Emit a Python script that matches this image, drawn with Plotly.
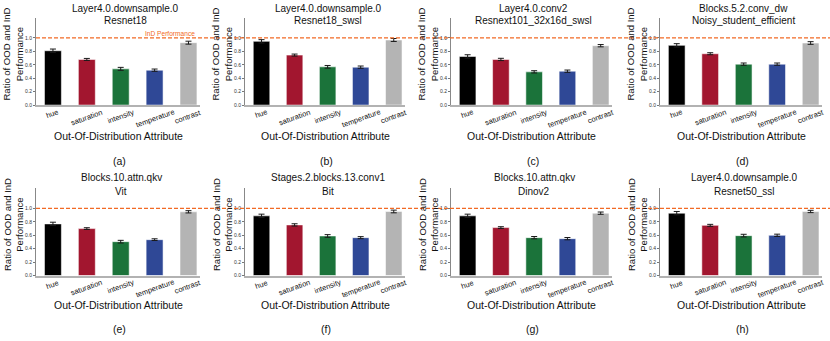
import plotly.graph_objects as go

# ---------------- data ----------------
categories = ["hue", "saturation", "intensity", "temperature", "contrast"]
bar_colors = ["#000000", "#A2162F", "#1B733A", "#2F4896", "#B4B4B4"]

layer_names = ["Layer4.0.downsample.0", "Layer4.0.downsample.0", "Layer4.0.conv2",
               "Blocks.5.2.conv_dw", "Blocks.10.attn.qkv", "Stages.2.blocks.13.conv1",
               "Blocks.10.attn.qkv", "Layer4.0.downsample.0"]
model_names = ["Resnet18", "Resnet18_swsl", "Resnext101_32x16d_swsl",
               "Noisy_student_efficient", "Vit", "Bit", "Dinov2", "Resnet50_ssl"]
panel_tags = ["(a)", "(b)", "(c)", "(d)", "(e)", "(f)", "(g)", "(h)"]

vals_a = [0.81, 0.68, 0.54, 0.52, 0.93]
vals_b = [0.95, 0.745, 0.57, 0.565, 0.97]
vals_c = [0.725, 0.68, 0.495, 0.505, 0.885]
vals_d = [0.89, 0.765, 0.61, 0.61, 0.925]
vals_e = [0.77, 0.70, 0.505, 0.535, 0.95]
vals_f = [0.89, 0.755, 0.59, 0.565, 0.955]
vals_g = [0.89, 0.715, 0.565, 0.55, 0.93]
vals_h = [0.93, 0.748, 0.595, 0.60, 0.955]

err_a = [0.025, 0.015, 0.022, 0.017, 0.022]
err_b = [0.025, 0.015, 0.02, 0.017, 0.022]
err_c = [0.025, 0.017, 0.017, 0.017, 0.017]
err_d = [0.025, 0.015, 0.017, 0.017, 0.02]
err_e = [0.025, 0.013, 0.02, 0.013, 0.017]
err_f = [0.025, 0.017, 0.02, 0.015, 0.02]
err_g = [0.025, 0.013, 0.017, 0.017, 0.017]
err_h = [0.025, 0.015, 0.02, 0.017, 0.017]

all_vals = [vals_a, vals_b, vals_c, vals_d, vals_e, vals_f, vals_g, vals_h]
all_errs = [err_a, err_b, err_c, err_d, err_e, err_f, err_g, err_h]

ind_level = 1.0
ind_label = "InD Performance"
y_tick_vals = [0.0, 0.2, 0.4, 0.6, 0.8, 1.0]
y_tick_text = ["0.0", "0.2", "0.4", "0.6", "0.8", "1.0"]
y_label = "Ratio of OOD and InD<br>Performance"
x_label = "Out-Of-Distribution Attribute"

# ---------------- layout geometry (pixels) ----------------
W, H = 830, 341
FONT = "Liberation Sans, Arial, Helvetica, sans-serif"
col_px = [(36, 200), (245, 405), (451, 612), (660, 822)]
row_px = [(18, 106), (190, 278)]
title_cx = [125, 328, 533, 743, 121, 328, 534, 744]
title_y1 = [9, 179]
title_y2 = [21, 193]
xlab_y = [137, 308]
tag_y = [162, 332]


def px_x(v):
    return v / W


def px_y(v):
    return 1 - v / H


fig = go.Figure()
annotations = []
shapes = []
layout_axes = {}

for i in range(8):
    r, c = divmod(i, 4)
    k = i + 1
    xa = "x" if k == 1 else f"x{k}"
    ya = "y" if k == 1 else f"y{k}"
    xl, xr = col_px[c]
    yt, yb = row_px[r]

    fig.add_trace(go.Bar(
        x=categories, y=all_vals[i], xaxis=xa, yaxis=ya,
        marker=dict(color=bar_colors, line=dict(color="rgba(255,255,255,0.55)", width=1)),
        width=0.5, showlegend=False,
        error_y=dict(type="data", array=all_errs[i], color="#1a1a1a", thickness=1, width=3),
    ))

    layout_axes["xaxis" if k == 1 else f"xaxis{k}"] = dict(
        domain=[px_x(xl), px_x(xr)], anchor=ya, type="category",
        range=[-0.5, 4.34], showticklabels=False, ticks="",
        showline=True, linecolor="#B2B2B2", linewidth=2, showgrid=False, zeroline=False,
    )
    layout_axes["yaxis" if k == 1 else f"yaxis{k}"] = dict(
        domain=[px_y(yb), px_y(yt)], anchor=xa, range=[0, 1.3],
        tickvals=y_tick_vals, ticktext=y_tick_text, ticks="outside", ticklen=2,
        tickwidth=0.8, tickcolor="#777", tickfont=dict(size=5, color="#333", family=FONT),
        showline=True, linecolor="#888", linewidth=1, showgrid=False, zeroline=False,
    )

    # titles
    annotations.append(dict(text=layer_names[i], xref="paper", yref="paper",
                            x=px_x(title_cx[i]), y=px_y(title_y1[r]), xanchor="center",
                            yanchor="middle", showarrow=False, font=dict(size=10, color="#111")))
    annotations.append(dict(text=model_names[i], xref="paper", yref="paper",
                            x=px_x(title_cx[i]), y=px_y(title_y2[r]), xanchor="center",
                            yanchor="middle", showarrow=False, font=dict(size=10, color="#111")))
    # y label
    annotations.append(dict(text=y_label, xref="paper", yref="paper", textangle=-90,
                            x=px_x(xl - 23), y=px_y((yt + yb) / 2 - 7), xanchor="center",
                            yanchor="middle", showarrow=False, font=dict(size=9.5, color="#111")))
    # x label
    annotations.append(dict(text=x_label, xref="paper", yref="paper",
                            x=px_x((xl + xr) / 2), y=px_y(xlab_y[r]), xanchor="center",
                            yanchor="middle", showarrow=False, font=dict(size=10.5, color="#111")))
    # panel tag
    annotations.append(dict(text=panel_tags[i], xref="paper", yref="paper",
                            x=px_x((xl + xr) / 2 + 1), y=px_y(tag_y[r]), xanchor="center",
                            yanchor="middle", showarrow=False, font=dict(size=10.5, color="#111")))
    # rotated category labels
    for cat in categories:
        annotations.append(dict(text=cat, xref=xa, yref="paper", x=cat,
                                y=px_y(yb + 1), xanchor="center", yanchor="top",
                                textangle=-20, showarrow=False, borderpad=0,
                                font=dict(size=7.5, color="#111")))

    if i == 0:
        annotations.append(dict(text=ind_label, xref="paper", yref=ya, x=px_x(196),
                                y=ind_level, xanchor="right", yanchor="bottom",
                                showarrow=False, borderpad=0,
                                font=dict(size=6.6, color="#F26A24")))

# dashed InD reference line across each row
for r, ya in enumerate(["y", "y5"]):
    shapes.append(dict(type="line", xref="paper", yref=ya,
                       x0=px_x(col_px[0][0]), x1=1.0, y0=ind_level, y1=ind_level,
                       line=dict(color="#F26A24", width=1.2, dash="4px,2px")))

fig.update_layout(
    width=W, height=H, margin=dict(l=0, r=0, t=0, b=0),
    paper_bgcolor="white", plot_bgcolor="white",
    font=dict(family=FONT, color="#111"),
    annotations=annotations, shapes=shapes, bargap=0.5,
    **layout_axes,
)

fig.write_html(
    "out.html",
    config={"displayModeBar": False},
    post_script="document.body.style.margin='0';document.body.style.overflow='hidden';",
)
